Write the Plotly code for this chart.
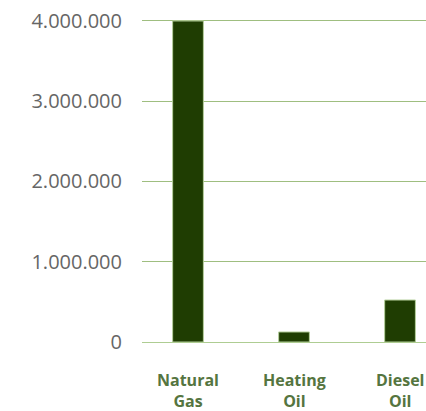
import plotly.graph_objects as go

categories = ["Natural Gas", "Heating Oil", "Diesel Oil"]
values = [4000000, 125000, 523000]
y_ticks = [0, 1000000, 2000000, 3000000, 4000000]

fig = go.Figure(
    go.Bar(
        x=categories,
        y=values,
        width=0.29,
        marker=dict(color="#1f3d02", line=dict(color="#b5cf9c", width=1)),
        hoverinfo="skip",
    )
)

# Category labels under the bars, one word per line
label_font = dict(size=16, color="#557540", family="Open Sans, sans-serif", weight=700)
for cat in categories:
    fig.add_annotation(
        x=cat, y=0, xref="x", yref="paper",
        text=cat.replace(" ", "<br>"), showarrow=False,
        xanchor="center", yanchor="top", yshift=-25,
        align="center", font=label_font,
    )

fig.update_layout(
    width=426,
    height=411,
    margin=dict(l=142, r=0, t=18, b=69),
    paper_bgcolor="white",
    plot_bgcolor="white",
    separators=",.",
    showlegend=False,
    font=dict(family="Open Sans, sans-serif"),
)

fig.update_xaxes(
    type="category",
    range=[-0.434, 2.245],
    automargin=False,
    showgrid=False,
    showline=False,
    zeroline=False,
    showticklabels=False,
)

fig.update_yaxes(
    range=[0, 4037000],
    automargin=False,
    tickvals=y_ticks,
    tickformat=",d",
    showgrid=True,
    gridcolor="#9fbe80",
    gridwidth=1,
    zeroline=True,
    zerolinecolor="#aecd92",
    zerolinewidth=1,
    showline=False,
    ticks="outside",
    ticklen=15,
    tickcolor="rgba(0,0,0,0)",
    tickfont=dict(size=20, color="#666666", family="Open Sans, sans-serif"),
)

fig.write_html("out.html")
